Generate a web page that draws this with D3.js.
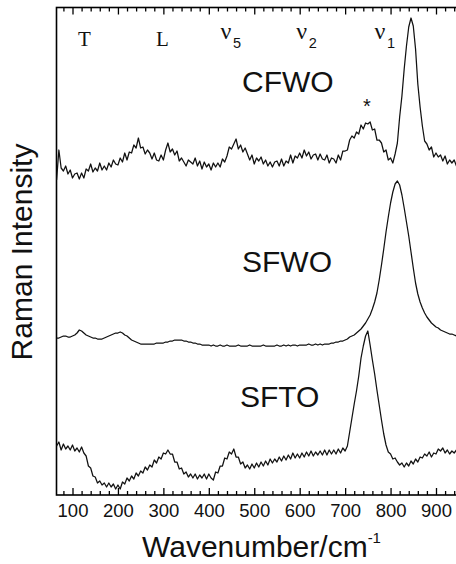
<!DOCTYPE html>
<html><head><meta charset="utf-8">
<script src="https://cdn.jsdelivr.net/npm/d3@7"></script>
<style>body{margin:0;background:#fff} svg{display:block}</style>
</head><body>
<svg id="c" width="456" height="564"></svg>
<script>
// ---- data (arbitrary intensity units, spectra offset as in the figure) ----
const wavenumbers = [
 65,70,75,80,85,90,95,100,105,110,
 115,120,125,130,135,140,145,150,155,160,
 165,170,175,180,185,190,195,200,205,210,
 215,220,225,230,235,240,245,250,255,260,
 265,270,275,280,285,290,295,300,305,310,
 315,320,325,330,335,340,345,350,355,360,
 365,370,375,380,385,390,395,400,405,410,
 415,420,425,430,435,440,445,450,455,460,
 465,470,475,480,485,490,495,500,505,510,
 515,520,525,530,535,540,545,550,555,560,
 565,570,575,580,585,590,595,600,605,610,
 615,620,625,630,635,640,645,650,655,660,
 665,670,675,680,685,690,695,700,705,710,
 715,720,725,730,735,740,745,750,755,760,
 765,770,775,780,785,790,795,800,805,810,
 815,820,825,830,835,840,845,850,855,860,
 865,870,875,880,885,890,895,900,905,910,
 915,920,925,930,935,940,945];
const cfwo = [
 315,345,327,324,329,321,325,317,321,322,
 316,322,317,326,324,331,323,327,324,332,
 325,329,325,332,328,335,331,330,337,333,
 342,335,343,342,350,347,357,347,348,341,
 345,342,336,342,335,334,340,335,345,352,
 343,346,340,344,334,337,333,329,335,333,
 331,337,329,334,326,333,328,331,325,332,
 328,332,328,336,333,339,348,346,351,356,
 346,350,343,347,341,335,340,331,337,334,
 338,331,335,329,333,328,333,334,329,336,
 329,334,332,340,332,339,337,342,337,345,
 339,343,336,340,341,335,341,336,335,340,
 332,337,336,332,340,335,344,344,345,355,
 359,357,363,361,370,366,372,371,373,365,
 366,355,355,352,343,345,335,337,332,341,
 352,378,399,426,449,468,477,469,446,411,
 388,369,354,351,345,348,338,342,338,340,
 334,339,331,335,332,335,329];
const sfwo = [
 157,157,158,159,159,158,158,159,160,162,
 165,164,162,160,159,158,157,157,156,156,
 156,157,158,159,160,161,162,162,163,162,
 160,159,157,155,154,153,152,151,151,151,
 151,151,151,151,152,152,152,152,153,153,
 154,154,155,155,155,155,154,154,153,153,
 152,152,151,151,150,150,150,150,149,150,
 149,149,150,149,149,150,149,149,149,149,
 150,149,149,149,149,150,149,149,149,149,
 149,150,149,149,149,149,149,150,149,149,
 150,149,150,149,150,150,149,150,150,150,
 150,151,150,150,151,150,151,150,151,151,
 151,152,152,153,153,154,154,155,156,158,
 159,160,162,164,166,169,172,176,180,186,
 193,202,215,230,246,263,278,292,303,311,
 314,310,300,287,273,259,243,227,212,201,
 193,187,182,178,175,172,170,168,167,165,
 164,163,162,161,161,160,159];
const sfto = [
 49,53,45,51,46,49,45,50,44,47,
 43,48,42,39,29,27,19,18,12,14,
 10,12,8,12,8,11,6,10,6,13,
 11,17,14,19,16,22,19,24,22,28,
 25,30,28,35,32,38,36,42,41,45,
 41,41,33,33,26,27,21,23,18,21,
 17,21,16,20,17,21,16,21,17,15,
 23,22,29,29,37,36,43,41,46,38,
 38,31,33,27,30,26,31,27,32,28,
 33,29,34,30,36,32,36,33,38,34,
 39,35,40,36,42,37,41,37,42,38,
 43,39,44,39,43,40,44,40,45,40,
 45,41,45,41,46,42,47,44,49,63,
 77,91,104,119,137,149,159,164,150,135,
 121,105,90,75,61,50,43,41,36,37,
 33,30,32,28,32,29,34,31,36,33,
 38,37,41,39,43,38,42,41,46,44,
 47,42,45,41,44,42,45];
const seriesNames = ["CFWO", "SFWO", "SFTO"];
const majorTicks = [100, 200, 300, 400, 500, 600, 700, 800, 900];
const modeNames = ["T", "L", "ν", "ν", "ν"];
const modeSubs = ["", "", "5", "2", "1"];
const modeWavenumbers = [126, 298, 441, 608, 780];

// ---- layout ----
const svg = d3.select("#c");
const mLeft = 56.5, mTop = 7.5, mBottom = 495;
const x = d3.scaleLinear().domain([100, 900]).range([72.5, 436]);
const y = d3.scaleLinear().domain([0, 487.5]).range([mBottom, mTop]);
const mRight = x(955);
const sans = "'Liberation Sans', Arial, Helvetica, sans-serif";
const serif = "'Liberation Serif', 'Times New Roman', serif";

svg.append("defs").append("clipPath").attr("id", "clip")
  .append("rect").attr("x", mLeft).attr("y", mTop).attr("width", mRight - mLeft).attr("height", mBottom - mTop);

// axes
const minorTicks = d3.range(80, 960, 20).filter(v => v % 100 !== 0);
function styleAxis(g) {
  g.select(".domain").remove();
  g.selectAll(".tick line").attr("stroke", "#000").attr("stroke-width", 1.3);
}
svg.append("g").attr("transform", `translate(0,${mBottom})`)
  .call(d3.axisBottom(x).tickValues(majorTicks).tickSizeInner(-7).tickSizeOuter(0).tickPadding(9).tickFormat(d3.format("d")))
  .call(styleAxis)
  .call(g => g.selectAll("text").attr("font-family", sans).attr("font-size", 18.5).attr("fill", "#111"));
svg.append("g").attr("transform", `translate(0,${mBottom})`)
  .call(d3.axisBottom(x).tickValues(minorTicks).tickSizeInner(-4).tickSizeOuter(0).tickFormat(""))
  .call(styleAxis);
svg.append("g").attr("transform", `translate(0,${mTop})`)
  .call(d3.axisTop(x).tickValues(majorTicks).tickSizeInner(-7).tickSizeOuter(0).tickFormat(""))
  .call(styleAxis);
svg.append("g").attr("transform", `translate(0,${mTop})`)
  .call(d3.axisTop(x).tickValues(minorTicks).tickSizeInner(-4).tickSizeOuter(0).tickFormat(""))
  .call(styleAxis);

// frame
svg.append("rect").attr("x", mLeft).attr("y", mTop).attr("width", mRight - mLeft).attr("height", mBottom - mTop)
  .attr("fill", "none").attr("stroke", "#000").attr("stroke-width", 1.6);

// spectra
const line = d3.line().x((d, i) => x(wavenumbers[i])).y(d => y(d));
[cfwo, sfwo, sfto].forEach(s => {
  svg.append("path").datum(s).attr("d", line).attr("clip-path", "url(#clip)")
    .attr("fill", "none").attr("stroke", "#111").attr("stroke-width", 1.25).attr("stroke-linejoin", "round");
});

// series labels
const labelPos = [[242, 92], [242, 272], [240, 407]];
seriesNames.forEach((n, i) => {
  svg.append("text").attr("x", labelPos[i][0]).attr("y", labelPos[i][1])
    .attr("font-family", sans).attr("font-size", 30).attr("fill", "#111").text(n);
});
svg.append("text").attr("x", 367).attr("y", 113).attr("text-anchor", "middle")
  .attr("font-family", sans).attr("font-size", 20).attr("fill", "#111").text("*");

// mode labels
modeNames.forEach((n, i) => {
  const cx = x(modeWavenumbers[i]);
  if (modeSubs[i] === "") {
    svg.append("text").attr("x", cx).attr("y", 45.5).attr("text-anchor", "middle")
      .attr("font-family", serif).attr("font-size", 21).attr("fill", "#111").text(n);
  } else {
    svg.append("text").attr("x", cx - 7).attr("y", 38.5)
      .attr("font-family", serif).attr("font-size", 24).attr("fill", "#111").text(n);
    svg.append("text").attr("x", cx + 5.5).attr("y", 47.5)
      .attr("font-family", sans).attr("font-size", 14.5).attr("fill", "#111").text(modeSubs[i]);
  }
});

// axis titles
const xt = svg.append("text").attr("x", 142).attr("y", 557)
  .attr("font-family", sans).attr("font-size", 30).attr("fill", "#111");
xt.append("tspan").text("Wavenumber/cm");
xt.append("tspan").attr("font-size", 15).attr("dy", -14).text("-1");
svg.append("text").attr("transform", "translate(32,252) rotate(-90)").attr("text-anchor", "middle")
  .attr("font-family", sans).attr("font-size", 30).attr("fill", "#111").text("Raman Intensity");
</script>
</body></html>
